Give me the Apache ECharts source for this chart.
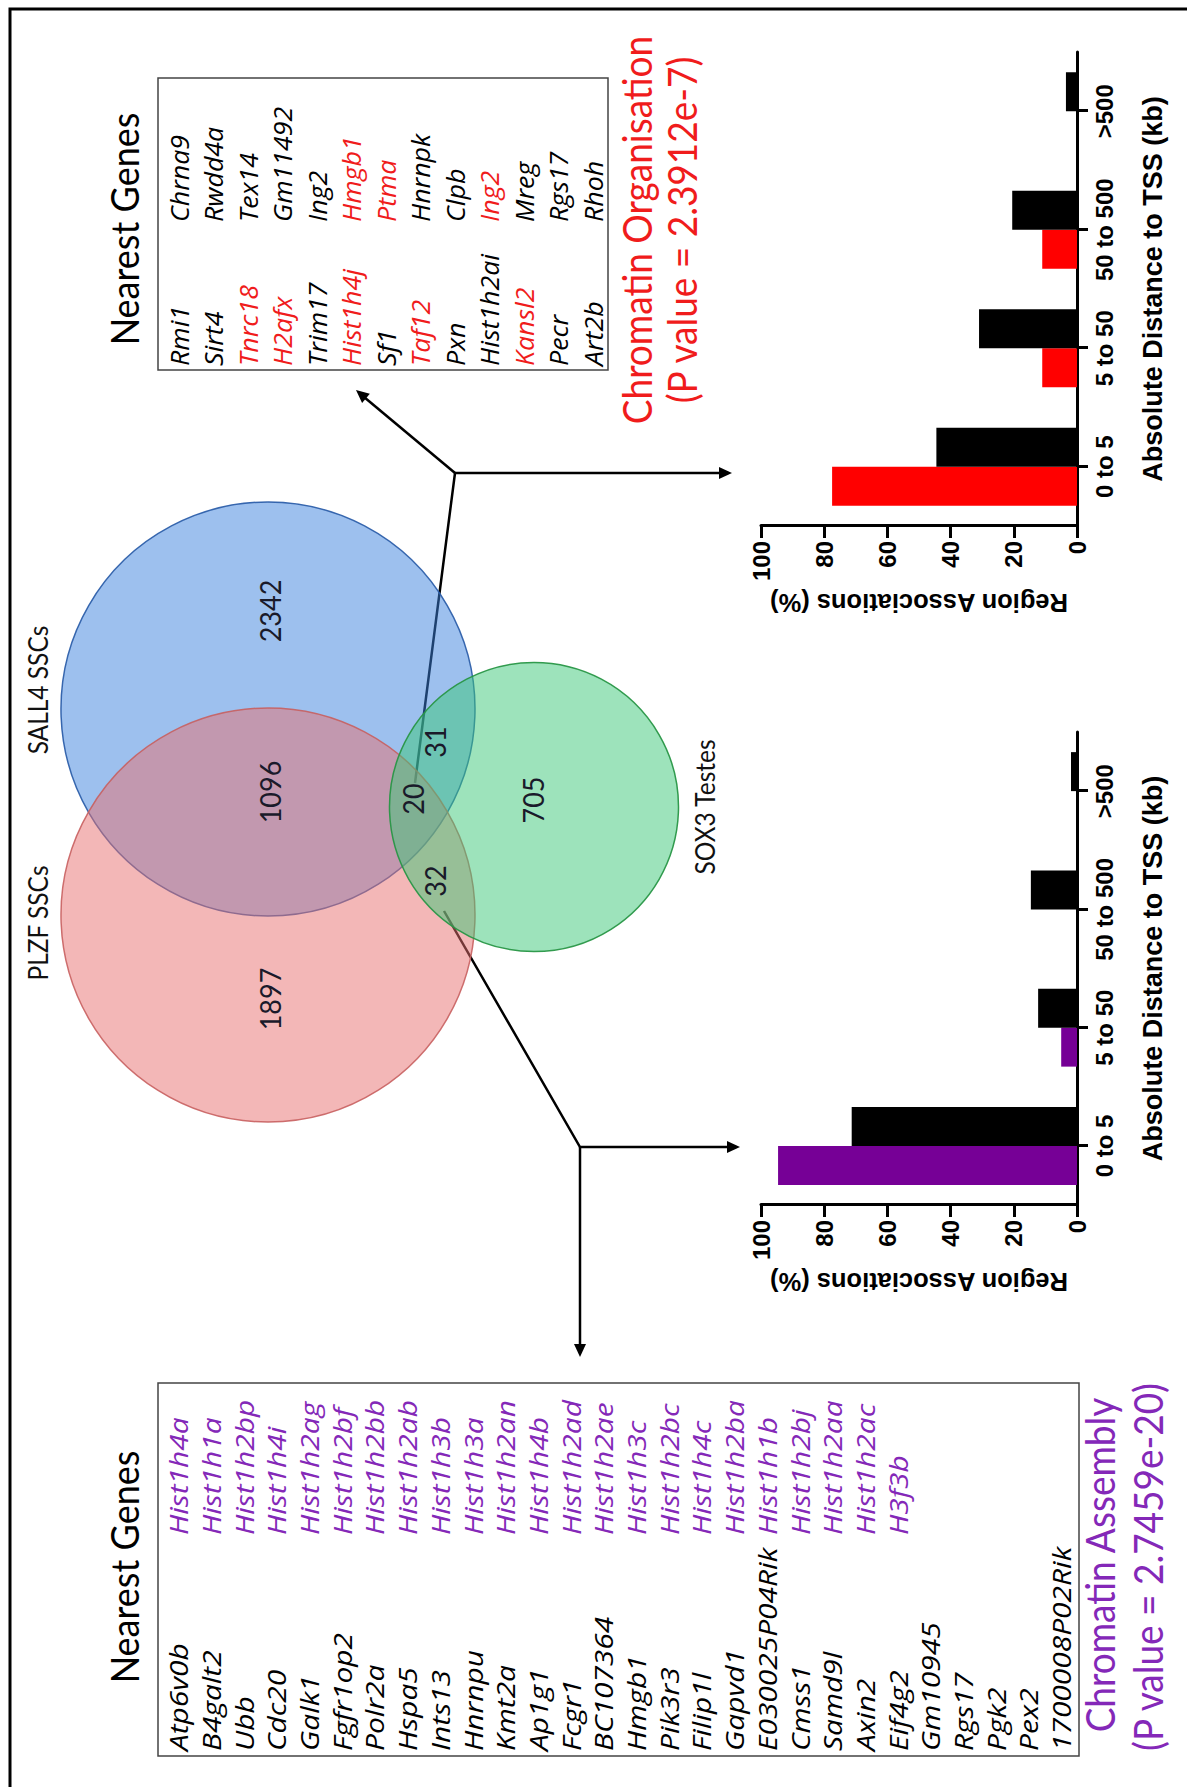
<!DOCTYPE html>
<html><head><meta charset="utf-8">
<script src="https://cdn.jsdelivr.net/npm/echarts@6/dist/echarts.min.js"></script>
<style>
html,body{margin:0;padding:0;background:#fff;overflow:hidden;width:1187px;height:1787px}
#wrap{position:absolute;left:0;top:0;width:1787px;height:1187px;transform-origin:0 0;transform:translate(0px,1787px) rotate(-90deg);}
#chart{width:1787px;height:1187px}
</style></head>
<body><div id="wrap"><div id="chart"></div></div>
<script>
// ---------------- DATA ----------------
const categories = ['0 to 5', '5 to 50', '50 to 500', '>500'];
const valueAxisMin = 0, valueAxisMax = 100, valueAxisStep = 20;
// Chromatin Assembly (32 shared regions) vs background
const assemblySelected   = [94.6, 5.0, 0, 0];
const assemblyBackground = [71.3, 12.3, 14.6, 1.9];
// Chromatin Organisation (20 shared regions) vs background
const organisationSelected   = [77.5, 11.0, 11.0, 0];
const organisationBackground = [44.5, 31.0, 20.5, 3.5];

const vennSetNames = ['PLZF SSCs', 'SALL4 SSCs', 'SOX3 Testes'];
const vennRegionNames = ['PLZF only', 'PLZF & SALL4', 'SALL4 only', 'all three', 'SALL4 & SOX3', 'PLZF & SOX3', 'SOX3 only'];
const vennRegionCounts = [1897, 1096, 2342, 20, 31, 32, 705];

const organisationGenesA = ['Rmi1','Sirt4','Tnrc18','H2afx','Trim17','Hist1h4j','Sf1','Taf12','Pxn','Hist1h2ai','Kansl2','Pecr','Art2b'];
const organisationHitsA  = [0,0,1,1,0,1,0,1,0,0,1,0,0];
const organisationGenesB = ['Chrna9','Rwdd4a','Tex14','Gm11492','Ing2','Hmgb1','Ptma','Hnrnpk','Clpb','Ing2','Mreg','Rgs17','Rhoh'];
const organisationHitsB  = [0,0,0,0,0,1,1,0,0,1,0,0,0];
const organisationTitle = 'Chromatin Organisation';
const organisationP = '(P value = 2.3912e-7)';

const assemblyGenesA = ['Atp6v0b','B4galt2','Ubb','Cdc20','Galk1','Fgfr1op2','Polr2a','Hspa5','Ints13','Hnrnpu','Kmt2a','Ap1g1','Fcgr1','BC107364','Hmgb1','Pik3r3','Filip1l','Gapvd1','E030025P04Rik','Cmss1','Samd9l','Axin2','Eif4g2','Gm10945','Rgs17','Pgk2','Pex2','1700008P02Rik'];
const assemblyGenesB = ['Hist1h4a','Hist1h1a','Hist1h2bp','Hist1h4i','Hist1h2ag','Hist1h2bf','Hist1h2bb','Hist1h2ab','Hist1h3b','Hist1h3a','Hist1h2an','Hist1h4b','Hist1h2ad','Hist1h2ae','Hist1h3c','Hist1h2bc','Hist1h4c','Hist1h2ba','Hist1h1b','Hist1h2bj','Hist1h2aa','Hist1h2ac','H3f3b'];
const assemblyTitle = 'Chromatin Assembly';
const assemblyP = '(P value = 2.7459e-20)';

// ---------------- LAYOUT / STYLE (unrotated frame 1787 x 1187) ----------------
const W = 1787, H = 1187;
const RED = '#ff0000', PURPLE = '#760096', TXT_RED = '#f01c1c', TXT_PURPLE = '#8428b8';
const AX_FONT = '"Liberation Sans", Arial, sans-serif';
const CAL_FONT = 'Lato, "Open Sans", sans-serif';
const GENE_FONT = 'italic 26px "Open Sans", sans-serif';

const vennLayout = {
  circles: [ {cx: 872, cy: 268, r: 207}, {cx: 1078, cy: 268, r: 207}, {cx: 980, cy: 534, r: 144.5} ],
  styles: [
    {fill: 'rgba(232,112,112,0.5)', stroke: 'rgba(200,95,95,0.9)'},
    {fill: 'rgba(60,130,222,0.5)', stroke: 'rgba(45,95,170,0.95)'},
    {fill: 'rgba(60,200,120,0.5)', stroke: 'rgba(40,150,70,0.95)'}
  ],
  drawOrder: [1, 0, 2],
  setLabelPos: [[864, 38], [1097, 38], [980, 705]],
  regionLabelPos: [[788, 270], [995, 270], [1176, 270], [988, 413], [1045, 435], [906, 435], [987, 533]]
};

function catAxis(gi) {
  return {
    type: 'category', gridIndex: gi, data: categories, boundaryGap: true,
    axisLine: {show: true, lineStyle: {color: '#000', width: 3}},
    axisTick: {show: true, alignWithLabel: true, length: 11, lineStyle: {color: '#000', width: 3}},
    axisLabel: {color: '#000', fontFamily: AX_FONT, fontWeight: 'bold', fontSize: 24, margin: 15, interval: 0},
    splitLine: {show: false},
    name: 'Absolute Distance to TSS (kb)', nameLocation: 'middle', nameGap: 62,
    nameTextStyle: {color: '#000', fontFamily: AX_FONT, fontWeight: 'bold', fontSize: 27}
  };
}
function valAxis(gi) {
  return {
    type: 'value', gridIndex: gi, min: valueAxisMin, max: valueAxisMax, interval: valueAxisStep,
    axisLine: {show: true, lineStyle: {color: '#000', width: 3}},
    axisTick: {show: true, length: 12, lineStyle: {color: '#000', width: 3}},
    axisLabel: {color: '#000', fontFamily: AX_FONT, fontWeight: 'bold', fontSize: 24, margin: 15},
    splitLine: {show: false},
    name: 'Region Associations (%)', nameLocation: 'middle', nameRotate: 90, nameGap: 64,
    nameTextStyle: {color: '#000', fontFamily: AX_FONT, fontWeight: 'bold', fontSize: 25.5}
  };
}
function bar(gi, data, color) {
  return {type: 'bar', xAxisIndex: gi, yAxisIndex: gi, data: data, barWidth: 39, barGap: '0%',
          itemStyle: {color: color}, silent: true};
}

// gene table texts
function geneColumn(list, hits, x0, y0, dy, color, hitColor, sx) {
  return list.map((g, i) => ({
    type: 'text', x: x0, y: y0 + i * dy, scaleX: sx, silent: true,
    style: {text: g, font: GENE_FONT, fill: (hits && hits[i]) ? hitColor : color,
            align: 'left', verticalAlign: 'middle', textAlign: 'left', textVerticalAlign: 'middle'}
  }));
}
function centerText(text, x, y, size, color, sy) {
  return {type: 'text', x: x, y: y, scaleY: sy || 1, silent: true,
          style: {text: text, font: size + 'px ' + CAL_FONT, fill: color,
                  align: 'center', verticalAlign: 'middle', textAlign: 'center', textVerticalAlign: 'middle'}};
}
function arrowHead(tx, ty, fx, fy) {
  const dx = tx - fx, dy = ty - fy, L = Math.hypot(dx, dy), ux = dx / L, uy = dy / L;
  const len = 13, half = 6;
  const bx = tx - ux * len, by = ty - uy * len;
  return {type: 'polygon', silent: true, shape: {points: [[tx, ty], [bx - uy * half, by + ux * half], [bx + uy * half, by - ux * half]]},
          style: {fill: '#000'}};
}
function seg(points) {
  return {type: 'polyline', silent: true, shape: {points: points}, style: {stroke: '#000', lineWidth: 2.5, fill: null}};
}

const graphics = [];
// frame
graphics.push(seg([[0, 10], [1778, 10], [1778, H]]));
graphics[0].style.lineWidth = 3;
// boxes
graphics.push({type: 'rect', silent: true, shape: {x: 1417, y: 158, width: 292, height: 450}, style: {fill: null, stroke: '#444', lineWidth: 1.5}});
graphics.push({type: 'rect', silent: true, shape: {x: 31, y: 158, width: 373, height: 921}, style: {fill: null, stroke: '#444', lineWidth: 1.5}});
// titles
graphics.push(centerText('Nearest Genes', 1558, 124, 36, '#000', 1.08));
graphics.push(centerText('Nearest Genes', 220, 124, 36, '#000', 1.08));
graphics.push(centerText(organisationTitle, 1557, 636, 37, TXT_RED, 1.1));
graphics.push(centerText(organisationP, 1557, 681, 37, TXT_RED, 1.1));
graphics.push(centerText(assemblyTitle, 222, 1099, 37, TXT_PURPLE, 1.1));
graphics.push(centerText(assemblyP, 220, 1147, 37, TXT_PURPLE, 1.1));
// gene tables
graphics.push(...geneColumn(organisationGenesA, organisationHitsA, 1421, 179, 34.5, '#000', TXT_RED, 1.03));
graphics.push(...geneColumn(organisationGenesB, organisationHitsB, 1565, 179, 34.5, '#000', TXT_RED, 1.03));
graphics.push(...geneColumn(assemblyGenesA, null, 36, 178, 32.7, '#000', '#000', 1.15));
graphics.push(...geneColumn(assemblyGenesB, assemblyGenesB.map(() => 1), 252, 178, 32.7, TXT_PURPLE, TXT_PURPLE, 1.15));
// connectors (organisation: from the 20 shared regions)
graphics.push(seg([[1004, 415], [1314, 455], [1314, 720]]));
graphics.push(arrowHead(1314, 732, 1314, 455));
graphics.push(seg([[1314, 455], [1390, 364]]));
graphics.push(arrowHead(1397, 356, 1314, 455));
// connectors (assembly: from the 32 shared regions)
graphics.push(seg([[876, 444], [640, 580], [640, 728]]));
graphics.push(arrowHead(640, 740, 640, 580));
graphics.push(seg([[640, 580], [442, 580]]));
graphics.push(arrowHead(430, 580, 640, 580));

const circleData = vennLayout.drawOrder.map(i => [vennLayout.circles[i].cx, vennLayout.circles[i].cy, vennLayout.circles[i].r, i]);
const setLabelData = vennSetNames.map((n, i) => [vennLayout.setLabelPos[i][0], vennLayout.setLabelPos[i][1], n]);
const regionLabelData = vennRegionCounts.map((c, i) => [vennLayout.regionLabelPos[i][0], vennLayout.regionLabelPos[i][1], String(c), vennRegionNames[i]]);

function textItem(size, color) {
  return function (params, api) {
    const p = api.coord([api.value(0), api.value(1)]);
    return {type: 'text', x: p[0], y: p[1], scaleY: 1.08,
            style: {text: api.value(2), font: size + 'px ' + CAL_FONT, fill: color,
                    align: 'center', verticalAlign: 'middle', textAlign: 'center', textVerticalAlign: 'middle'}};
  };
}

const option = {
  animation: false,
  backgroundColor: '#fff',
  grid: [
    {left: 582, top: 761, width: 473, height: 316, outerBoundsMode: 'none', containLabel: false},
    {left: 1261, top: 761, width: 474, height: 316, outerBoundsMode: 'none', containLabel: false},
    {left: 0, top: 0, width: W, height: H, outerBoundsMode: 'none', containLabel: false}
  ],
  xAxis: [catAxis(0), catAxis(1), {type: 'value', gridIndex: 2, min: 0, max: W, show: false}],
  yAxis: [valAxis(0), valAxis(1), {type: 'value', gridIndex: 2, min: 0, max: H, inverse: true, show: false}],
  series: [
    bar(0, assemblySelected, PURPLE),
    bar(0, assemblyBackground, '#000'),
    bar(1, organisationSelected, RED),
    bar(1, organisationBackground, '#000'),
    {type: 'custom', xAxisIndex: 2, yAxisIndex: 2, silent: true, z: 1, data: circleData,
     renderItem: function (params, api) {
       const c = api.coord([api.value(0), api.value(1)]);
       const r = api.size([api.value(2), 0])[0];
       const st = vennLayout.styles[api.value(3)];
       return {type: 'circle', shape: {cx: c[0], cy: c[1], r: r}, style: {fill: st.fill, stroke: st.stroke, lineWidth: 1.5}};
     }},
    {type: 'custom', xAxisIndex: 2, yAxisIndex: 2, silent: true, z: 3, data: setLabelData,
     dimensions: ['x', 'y', {name: 'label', type: 'ordinal'}], renderItem: textItem(24.5, '#111')},
    {type: 'custom', xAxisIndex: 2, yAxisIndex: 2, silent: true, z: 3, data: regionLabelData,
     dimensions: ['x', 'y', {name: 'label', type: 'ordinal'}, {name: 'region', type: 'ordinal'}], renderItem: textItem(27, '#1a1a2a')}
  ],
  graphic: {elements: graphics}
};

const chart = echarts.init(document.getElementById('chart'), null, {renderer: 'svg', width: W, height: H});
chart.setOption(option);
</script>
</body></html>
